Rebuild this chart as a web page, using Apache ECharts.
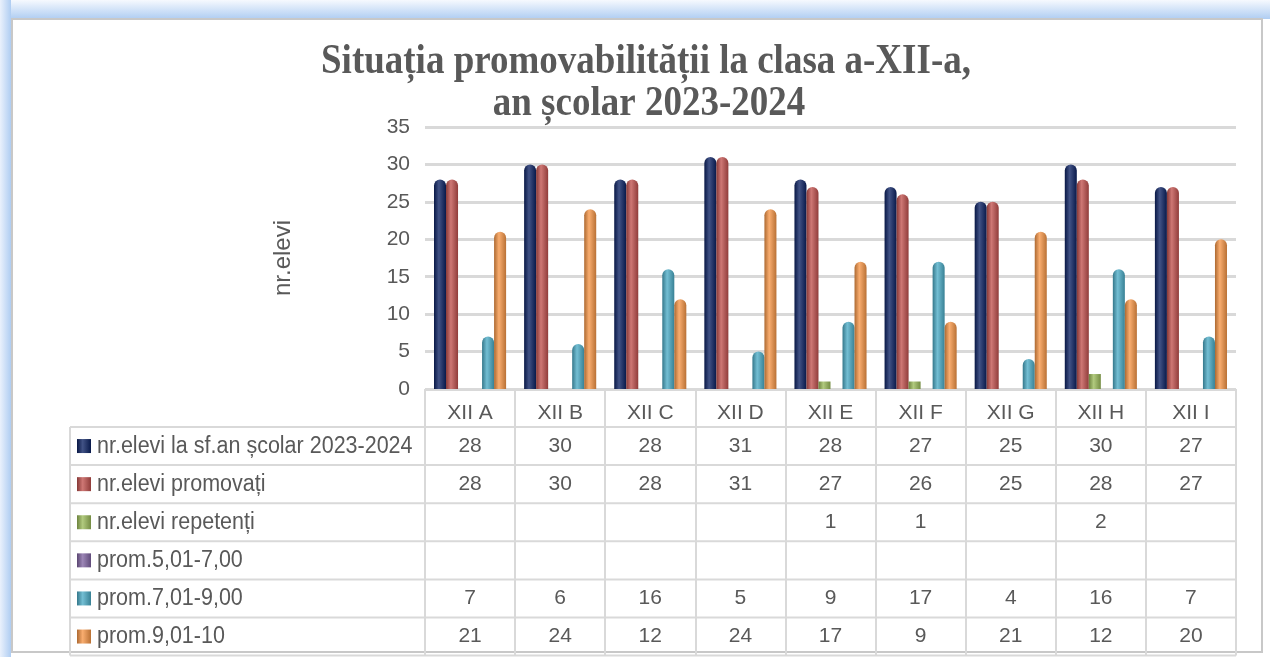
<!DOCTYPE html>
<html>
<head>
<meta charset="utf-8">
<script src="https://cdn.jsdelivr.net/npm/echarts@6/dist/echarts.min.js"></script>
<style>
html, body { margin: 0; padding: 0; background: #fff; }
#chart { width: 1270px; height: 657px; }
</style>
</head>
<body>
<div id="chart"></div>
<script>
// date
const categories = ['XII A', 'XII B', 'XII C', 'XII D', 'XII E', 'XII F', 'XII G', 'XII H', 'XII I']
const elevi = [28, 30, 28, 31, 28, 27, 25, 30, 27]
const promovati = [28, 30, 28, 31, 27, 26, 25, 28, 27]
const repetenti = [null, null, null, null, 1, 1, null, 2, null]
const prom5to7 = [null, null, null, null, null, null, null, null, null]
const prom7to9 = [7, 6, 16, 5, 9, 17, 4, 16, 7]
const prom9to10 = [21, 24, 12, 24, 17, 9, 21, 12, 20]
const seriesNames = [
    'nr.elevi la sf.an școlar 2023-2024',
    'nr.elevi promovați',
    'nr.elevi repetenți',
    'prom.5,01-7,00',
    'prom.7,01-9,00',
    'prom.9,01-10',
]
const seriesData = [elevi, promovati, repetenti, prom5to7, prom7to9, prom9to10]
const yMin = 0
const yMax = 35
const yStep = 5

const colors = ['#0b2163', '#c0504d', '#9bbb59', '#8064a2', '#4bacc6', '#f79646']
const textColor = '#595959'
const lineColor = '#d9d9d9'
const font = 'Liberation Sans, Arial, sans-serif'
const titleFont = 'bold 37px "Liberation Serif", "Times New Roman", serif'

// asezare (px)
const plotLeft = 425
const plotRight = 1236
const plotTop = 127
const plotBottom = 389
const tableLeft = 70
const headerBottom = 427
const rowH = 38.1

function shade(hex, p) {
    let n = parseInt(hex.slice(1), 16)
    let c = [(n >> 16) & 255, (n >> 8) & 255, n & 255].map(v => {
        let t = p < 0 ? 0 : 255
        return Math.round(v + (t - v) * Math.abs(p))
    })
    return 'rgb(' + c.join(',') + ')'
}

function cylinder(hex) {
    return new echarts.graphic.LinearGradient(0, 0, 1, 0, [
        { offset: 0, color: shade(hex, -0.3) },
        { offset: 0.4, color: shade(hex, 0.22) },
        { offset: 1, color: shade(hex, -0.25) },
    ])
}

let chart = echarts.init(document.getElementById('chart'))

let rowCenter = i => headerBottom + rowH * i + rowH / 2

let xAxes = [{
    type: 'category',
    data: categories,
    boundaryGap: true,
    axisLine: { show: false },
    axisTick: { show: true, length: headerBottom + rowH * 6 - plotBottom, lineStyle: { color: lineColor, width: 2 } },
    axisLabel: { interval: 0, margin: 24, fontSize: 21, color: textColor, fontFamily: font, verticalAlign: 'middle' },
}]
seriesData.forEach((arr, i) => {
    xAxes.push({
        type: 'category',
        data: categories,
        position: 'bottom',
        offset: rowCenter(i) - plotBottom,
        axisLine: { show: false },
        axisTick: { show: false },
        axisLabel: {
            interval: 0,
            margin: 0,
            fontSize: 21,
            color: textColor,
            fontFamily: font,
            verticalAlign: 'middle',
            formatter: (v, idx) => (arr[idx] == null ? '' : String(arr[idx])),
        },
    })
})

let graphics = [
    {
        type: 'rect', z: -10,
        shape: { x: 0, y: 0, width: 1270, height: 19 },
        style: { fill: new echarts.graphic.LinearGradient(0, 0, 0, 1, [{ offset: 0, color: '#f6f9fe' }, { offset: 1, color: '#afcdf2' }]) },
    },
    {
        type: 'rect', z: -10,
        shape: { x: 0, y: 0, width: 11, height: 657 },
        style: { fill: new echarts.graphic.LinearGradient(0, 0, 1, 0, [{ offset: 0, color: '#eaf1fc' }, { offset: 1, color: '#afcdf2' }]) },
    },
    {
        type: 'rect', z: -5,
        shape: { x: 12, y: 19, width: 1250, height: 633 },
        style: { fill: 'none', stroke: '#c8c8c8', lineWidth: 2 },
    },
    {
        type: 'text',
        x: 646, y: 62, scaleY: 1.15,
        style: { text: 'Situația promovabilității la clasa a-XII-a,', font: titleFont, fill: textColor, align: 'center', verticalAlign: 'middle' },
    },
    {
        type: 'text',
        x: 649, y: 104, scaleY: 1.15,
        style: { text: 'an școlar 2023-2024', font: titleFont, fill: textColor, align: 'center', verticalAlign: 'middle' },
    },
    {
        type: 'line',
        shape: { x1: tableLeft, y1: headerBottom, x2: tableLeft, y2: headerBottom + rowH * 6 },
        style: { stroke: lineColor, lineWidth: 2 },
    },
]
for (let i = 0; i <= 6; i++) {
    let y = headerBottom + rowH * i
    graphics.push({
        type: 'line',
        shape: { x1: tableLeft, y1: y, x2: plotRight, y2: y },
        style: { stroke: lineColor, lineWidth: 2 },
    })
}
seriesNames.forEach((name, i) => {
    let cy = rowCenter(i)
    graphics.push({
        type: 'rect',
        shape: { x: 77, y: cy - 7, width: 14, height: 14 },
        style: { fill: cylinder(colors[i]) },
    })
    graphics.push({
        type: 'text',
        x: 97, y: cy, scaleY: 1.1,
        style: { text: name, font: '21.5px ' + font, fill: textColor, align: 'left', verticalAlign: 'middle' },
    })
})

let option = {
    animation: false,
    textStyle: { fontFamily: font },
    grid: {
        left: plotLeft,
        right: 1270 - plotRight,
        top: plotTop,
        bottom: 657 - plotBottom,
        containLabel: false,
    },
    xAxis: xAxes,
    yAxis: {
        type: 'value',
        min: yMin,
        max: yMax,
        interval: yStep,
        axisLine: { show: false },
        axisTick: { show: false },
        axisLabel: { margin: 15, fontSize: 21, color: textColor },
        splitLine: { lineStyle: { color: lineColor, width: 3 } },
        name: 'nr.elevi',
        nameLocation: 'middle',
        nameGap: 130,
        nameTextStyle: { fontSize: 24, color: textColor },
    },
    series: seriesNames.map((name, i) => ({
        name,
        type: 'bar',
        xAxisIndex: 0,
        data: seriesData[i],
        barGap: '0%',
        barCategoryGap: '20%',
        itemStyle: {
            color: cylinder(colors[i]),
            borderRadius: i === 2 ? 0 : [6, 6, 0, 0],
        },
    })),
    graphic: graphics,
}

chart.setOption(option)
window.addEventListener('resize', () => {
    chart.resize()
})
</script>
</body>
</html>
